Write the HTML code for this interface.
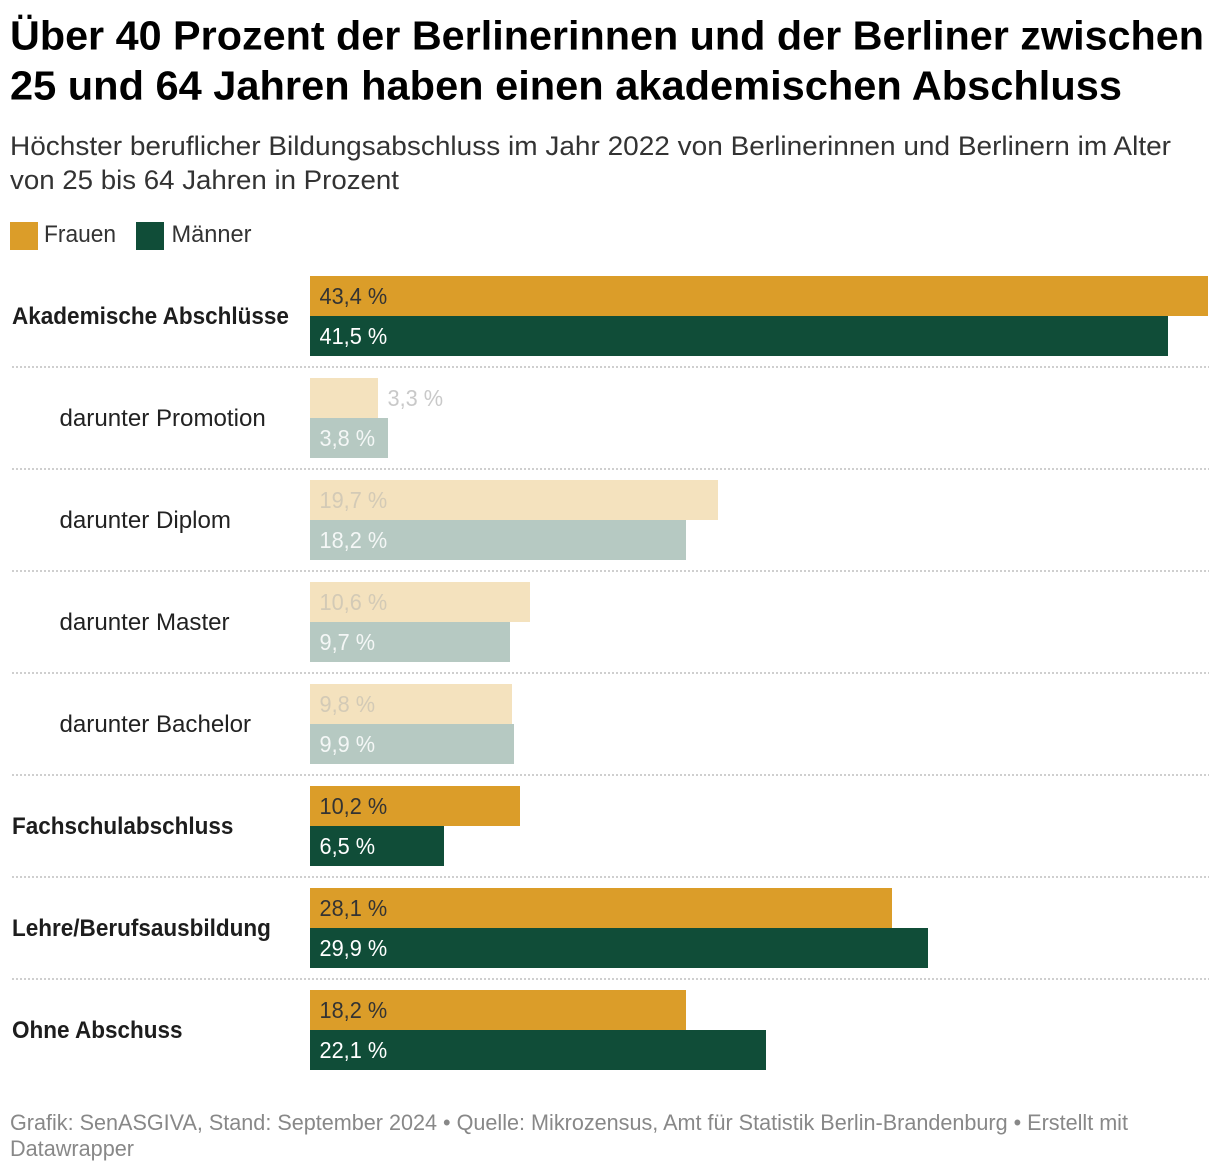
<!DOCTYPE html>
<html lang="de">
<head>
<meta charset="utf-8">
<title>Berufliche Bildungsabschlüsse Berlin 2022</title>
<style>
html,body{margin:0;padding:0;background:#fff;width:1220px;height:1174px;overflow:hidden}
svg{display:block;font-family:"Liberation Sans",sans-serif}
.title{font-size:41px;font-weight:700;fill:#000}
.sub{font-size:27px;fill:#333}
.leg{font-size:24px;fill:#333}
.foot{font-size:22px;fill:#888}
.cat{font-size:24px;fill:#222}
.cat.main{font-weight:700;fill:#1d1d1d}
.val{font-size:23px}
</style>
</head>
<body>
<svg id="chart" xmlns="http://www.w3.org/2000/svg" width="1220" height="1174" viewBox="0 0 1220 1174">
<text class="title" x="10" y="49.5" textLength="1194" lengthAdjust="spacingAndGlyphs">Über 40 Prozent der Berlinerinnen und der Berliner zwischen</text>
<text class="title" x="10" y="99.5" textLength="1112" lengthAdjust="spacingAndGlyphs">25 und 64 Jahren haben einen akademischen Abschluss</text>
<text class="sub" x="10" y="155" textLength="1161" lengthAdjust="spacingAndGlyphs">Höchster beruflicher Bildungsabschluss im Jahr 2022 von Berlinerinnen und Berlinern im Alter</text>
<text class="sub" x="10" y="189" textLength="389" lengthAdjust="spacingAndGlyphs">von 25 bis 64 Jahren in Prozent</text>
<g>
<rect x="10" y="222" width="28" height="28" fill="#db9d29"/>
<text class="leg" x="44" y="242" textLength="72" lengthAdjust="spacingAndGlyphs">Frauen</text>
<rect x="136" y="222" width="28" height="28" fill="#104d38"/>
<text class="leg" x="171.5" y="242" textLength="80" lengthAdjust="spacingAndGlyphs">Männer</text>
</g>
<g id="plot"></g>
<text class="foot" x="10" y="1130" textLength="1118" lengthAdjust="spacingAndGlyphs">Grafik: SenASGIVA, Stand: September 2024 • Quelle: Mikrozensus, Amt für Statistik Berlin-Brandenburg • Erstellt mit</text>
<text class="foot" x="10" y="1156" textLength="124" lengthAdjust="spacingAndGlyphs">Datawrapper</text>
</svg>
<script>
const categories = ['Akademische Abschlüsse','darunter Promotion','darunter Diplom','darunter Master','darunter Bachelor','Fachschulabschluss','Lehre/Berufsausbildung','Ohne Abschuss'];
const frauen = [43.4,3.3,19.7,10.6,9.8,10.2,28.1,18.2];
const maenner = [41.5,3.8,18.2,9.7,9.9,6.5,29.9,22.1];
const subCategory = [false,true,true,true,true,false,false,false];

const NS = 'http://www.w3.org/2000/svg';
const plot = document.getElementById('plot');
const X0 = 310, XMAX = 43.4, XW = 897.4, ROW0 = 276, ROWSTEP = 102, BARH = 40;
const xScale = v => X0 + Math.round(v * XW / XMAX / 2) * 2;
const yScale = i => ROW0 + i * ROWSTEP;
const fmt = v => v.toFixed(1).replace('.', ',') + ' %';

function svgEl(tag, attrs) {
  const el = document.createElementNS(NS, tag);
  for (const k in attrs) el.setAttribute(k, attrs[k]);
  return el;
}

function condense(el, factor) {
  el.setAttribute('textLength', el.getComputedTextLength() * factor);
  el.setAttribute('lengthAdjust', 'spacingAndGlyphs');
}

categories.forEach((name, i) => {
  const y = yScale(i);
  const sub = subCategory[i];
  const slug = name.toLowerCase().replace(/[^a-z]+/g, '-');

  const label = svgEl('text', {x: sub ? 59.5 : 12, y: y + 48, class: sub ? 'cat' : 'cat main'});
  
  
  label.textContent = name;
  plot.appendChild(label);
  condense(label, sub ? 1.004 : 0.938);

  [[frauen, 'frauen', sub ? '#f4e2be' : '#db9d29', sub ? '#d3cab6' : '#333333'],
   [maenner, 'maenner', sub ? '#b6c9c2' : '#104d38', sub ? '#f4f7f6' : '#ffffff']].forEach((s, j) => {
    const v = s[0][i];
    const by = y + j * BARH;
    const bar = svgEl('rect', {x: X0, y: by, width: xScale(v) - X0, height: BARH, fill: s[2]});
    
    
    plot.appendChild(bar);

    const outside = xScale(v) - X0 < 75;
    const t = svgEl('text', {x: outside ? xScale(v) + 9.5 : X0 + 9.5, y: by + 28, class: 'val', fill: outside ? '#c9c9c9' : s[3]});
    
    
    t.textContent = fmt(v);
    plot.appendChild(t);
    condense(t, 0.945);
  });

  if (i < categories.length - 1) {
    const sep = svgEl('line', {x1: 12, x2: 1209, y1: y + 91, y2: y + 91, stroke: '#cfcfcf', 'stroke-width': 2, 'stroke-dasharray': '2 2'});
    
    
    plot.appendChild(sep);
  }
});
</script>
</body>
</html>
